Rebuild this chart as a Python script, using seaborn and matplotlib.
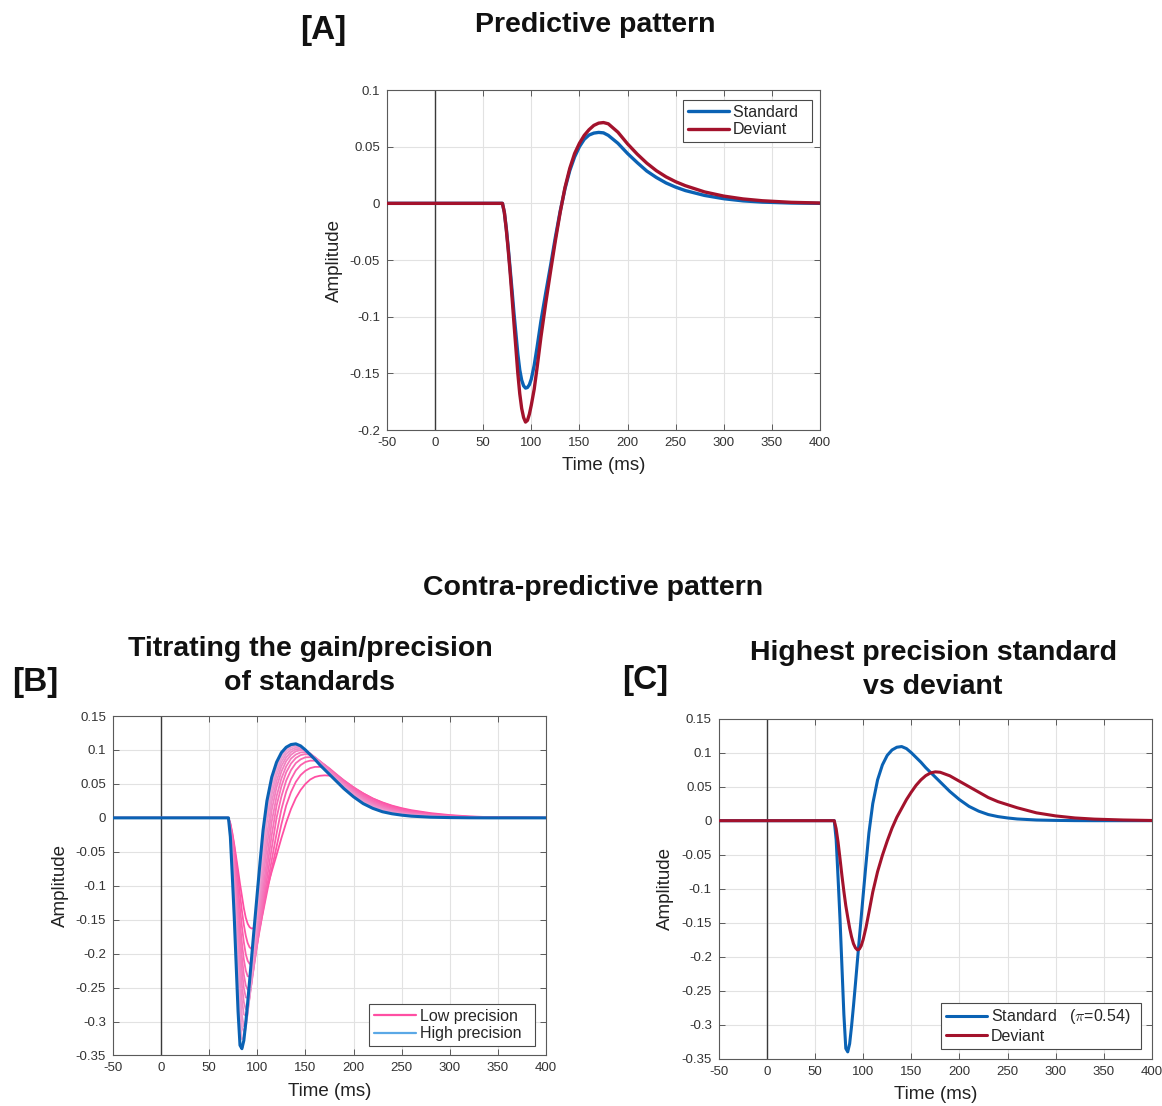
import matplotlib
matplotlib.use("Agg")
import numpy as np
import pandas as pd
import matplotlib.pyplot as plt
from matplotlib.lines import Line2D
import seaborn as sns

# ---------------- data ----------------
TIME_MS = [-50, 70, 72, 74, 76, 78, 80, 82, 84, 86, 88, 90, 92, 94, 96, 98, 100,
           103, 106, 110, 115, 120, 125, 130, 135, 140, 145, 150, 155, 160, 165,
           170, 175, 180, 190, 200, 210, 220, 230, 240, 250, 260, 280, 300, 320,
           340, 370, 400]

# Panel A (predictive pattern)
standard_pred = [0, 0, -0.008, -0.022, -0.039, -0.058, -0.077, -0.097, -0.115, -0.133,
                 -0.147, -0.156, -0.161, -0.163, -0.1625, -0.160, -0.155, -0.143, -0.127,
                 -0.104, -0.079, -0.055, -0.030, -0.007, 0.013, 0.029, 0.041, 0.050,
                 0.0565, 0.0603, 0.062, 0.0626, 0.0622, 0.060, 0.053, 0.044, 0.036,
                 0.0285, 0.0228, 0.0180, 0.0143, 0.0113, 0.0070, 0.0041, 0.0022, 0.0011,
                 0.0003, 0]
deviant_pred = [0, 0, -0.008, -0.023, -0.041, -0.061, -0.083, -0.106, -0.128, -0.150,
                -0.168, -0.181, -0.189, -0.193, -0.1915, -0.186, -0.178, -0.164, -0.145,
                -0.118, -0.088, -0.060, -0.033, -0.008, 0.014, 0.031, 0.044, 0.053,
                0.060, 0.065, 0.0688, 0.0708, 0.0713, 0.0702, 0.0628, 0.0525, 0.0435,
                0.0355, 0.0288, 0.0234, 0.0191, 0.0156, 0.0101, 0.0064, 0.0039, 0.0023,
                0.0009, 0.0003]

# Panel C (highest precision standard vs deviant)
standard_high = [0, 0, -0.028, -0.085, -0.145, -0.215, -0.285, -0.335, -0.340, -0.328,
                 -0.302, -0.272, -0.240, -0.207, -0.174, -0.142, -0.110, -0.063, -0.018,
                 0.025, 0.060, 0.082, 0.096, 0.104, 0.108, 0.109, 0.106, 0.100, 0.093,
                 0.086, 0.078, 0.071, 0.064, 0.057, 0.043, 0.031, 0.021, 0.014, 0.009,
                 0.006, 0.004, 0.0025, 0.001, 0.0004, 0.0001, 0, 0, 0]
deviant_contra = [0, 0, -0.012, -0.032, -0.056, -0.081, -0.104, -0.125, -0.142, -0.158,
                  -0.171, -0.181, -0.187, -0.190, -0.189, -0.184, -0.175, -0.157, -0.135,
                  -0.105, -0.075, -0.051, -0.030, -0.011, 0.005, 0.018, 0.031, 0.042,
                  0.052, 0.060, 0.0662, 0.0702, 0.0718, 0.0712, 0.0660, 0.058, 0.050, 0.042,
                  0.034, 0.028, 0.0235, 0.019, 0.0115, 0.007, 0.004, 0.0023, 0.001, 0.0003]

# Panel B: intermediate precision levels (between standard_pred and standard_high)
titration_1 = [0, 0, -0.0095, -0.0237, -0.0421, -0.0641, -0.0886, -0.1131, -0.137, -0.1575,
               -0.1735, -0.1845, -0.1907, -0.193, -0.1895, -0.184, -0.1757, -0.1589, -0.1384,
               -0.110, -0.0751, -0.0425, -0.0097, 0.0181, 0.038, 0.0529, 0.063, 0.0694,
               0.0733, 0.0751, 0.0751, 0.0735, 0.0701, 0.0657, 0.0551, 0.0451, 0.0361,
               0.0285, 0.0222, 0.0173, 0.0133, 0.0103, 0.0060, 0.0034, 0.0017, 0.0008, 0.0003, 0]
titration_2 = [0, 0, -0.0108, -0.0281, -0.0505, -0.0771, -0.1048, -0.1333, -0.1603, -0.1832,
               -0.2007, -0.2106, -0.2151, -0.2128, -0.2073, -0.1974, -0.1845, -0.1614, -0.1357,
               -0.1017, -0.0622, -0.0233, 0.0123, 0.0385, 0.0569, 0.0698, 0.0777, 0.0823,
               0.0843, 0.0842, 0.0819, 0.0779, 0.0728, 0.0669, 0.0551, 0.0446, 0.0350,
               0.0271, 0.0207, 0.0157, 0.0120, 0.0092, 0.0052, 0.0028, 0.0014, 0.0007, 0.0002, 0]
titration_3 = [0, 0, -0.0125, -0.0328, -0.0597, -0.0904, -0.1225, -0.155, -0.1843, -0.2086,
               -0.2247, -0.2334, -0.2336, -0.2284, -0.2171, -0.2027, -0.186, -0.1565, -0.1274,
               -0.0897, -0.0446, 0, 0.0313, 0.0548, 0.0703, 0.0806, 0.0862, 0.0892,
               0.0894, 0.0875, 0.0833, 0.0780, 0.0720, 0.0655, 0.0536, 0.0427, 0.0331,
               0.0251, 0.0189, 0.0141, 0.0106, 0.0080, 0.0044, 0.0023, 0.0012, 0.0006, 0.0002, 0]
titration_4 = [0, 0, -0.0139, -0.0367, -0.067, -0.1012, -0.1366, -0.1733, -0.2049, -0.2309,
               -0.2467, -0.253, -0.2477, -0.2373, -0.2231, -0.2047, -0.183, -0.1498, -0.1169,
               -0.0759, -0.0253, 0.0179, 0.0463, 0.067, 0.080, 0.0881, 0.0924, 0.0939,
               0.0928, 0.089, 0.0837, 0.0777, 0.0711, 0.0644, 0.0523, 0.0410, 0.0312,
               0.0232, 0.0172, 0.0127, 0.0095, 0.0070, 0.0038, 0.0019, 0.0009, 0.0005, 0.0002, 0]
titration_5 = [0, 0, -0.0157, -0.0415, -0.0756, -0.1126, -0.1514, -0.1905, -0.2243, -0.2506,
               -0.2645, -0.265, -0.2575, -0.2433, -0.224, -0.2015, -0.1774, -0.141, -0.1055,
               -0.0614, -0.0056, 0.0316, 0.0579, 0.0758, 0.0873, 0.0933, 0.0964, 0.0965,
               0.0938, 0.089, 0.083, 0.0764, 0.0696, 0.063, 0.0507, 0.0394, 0.0295,
               0.0216, 0.0157, 0.0114, 0.0084, 0.0061, 0.0033, 0.0016, 0.0008, 0.0004, 0.0001, 0]
titration_6 = [0, 0, -0.0178, -0.0468, -0.084, -0.1244, -0.1681, -0.2098, -0.2462, -0.2713,
               -0.282, -0.2755, -0.2623, -0.2439, -0.2208, -0.1946, -0.1678, -0.128, -0.0911,
               -0.0426, 0.0115, 0.045, 0.068, 0.0836, 0.0928, 0.098, 0.0998, 0.0987,
               0.0947, 0.0892, 0.0827, 0.0757, 0.0687, 0.0622, 0.0496, 0.038, 0.0281,
               0.0203, 0.0146, 0.0104, 0.0075, 0.0054, 0.0029, 0.0014, 0.0007, 0.0003, 0.0001, 0]
titration_7 = [0, 0, -0.0201, -0.0528, -0.0938, -0.1384, -0.1864, -0.2313, -0.2685, -0.2894,
               -0.2915, -0.282, -0.2655, -0.2419, -0.2148, -0.1864, -0.1581, -0.1168, -0.0779,
               -0.026, 0.024, 0.0541, 0.076, 0.0891, 0.097, 0.101, 0.1018, 0.0993,
               0.0943, 0.0882, 0.0813, 0.0742, 0.0672, 0.0606, 0.0479, 0.0362, 0.0263,
               0.0188, 0.0133, 0.0094, 0.0067, 0.0047, 0.0025, 0.0012, 0.0006, 0.0003, 0.0001, 0]
titration_8 = [0, 0, -0.0224, -0.0593, -0.1044, -0.1529, -0.2063, -0.2542, -0.2904, -0.307,
               -0.2993, -0.2843, -0.2625, -0.2358, -0.2057, -0.1756, -0.1458, -0.1035, -0.062,
               -0.0068, 0.0343, 0.0629, 0.082, 0.094, 0.1005, 0.1035, 0.1031, 0.0997,
               0.0942, 0.0876, 0.0804, 0.0733, 0.0663, 0.0596, 0.0467, 0.0349, 0.025,
               0.0176, 0.0123, 0.0085, 0.006, 0.0042, 0.0022, 0.0011, 0.0005, 0.0002, 0.0001, 0]
titration_9 = [0, 0, -0.0245, -0.0642, -0.1123, -0.1657, -0.2223, -0.2738, -0.3081, -0.3151,
               -0.3058, -0.2875, -0.2617, -0.2315, -0.2003, -0.1685, -0.1374, -0.0941, -0.0509,
               0.0042, 0.0424, 0.0692, 0.0872, 0.0978, 0.1038, 0.1058, 0.1044, 0.100,
               0.0939, 0.0868, 0.0795, 0.0723, 0.0654, 0.0585, 0.0454, 0.0334, 0.0233,
               0.0162, 0.0111, 0.0076, 0.0052, 0.0036, 0.0019, 0.0009, 0.0004, 0.0002, 0, 0]
titration_10 = [0, 0, -0.0267, -0.0716, -0.1231, -0.1825, -0.2432, -0.2963, -0.326, -0.3237,
                -0.3095, -0.2874, -0.2591, -0.226, -0.1931, -0.160, -0.1284, -0.0832, -0.0376,
                0.0129, 0.0501, 0.0755, 0.0916, 0.1013, 0.106, 0.1074, 0.1049, 0.0995,
                0.093, 0.0856, 0.0783, 0.071, 0.064, 0.0571, 0.0438, 0.0317, 0.0218,
                0.015, 0.010, 0.0068, 0.0046, 0.0031, 0.0016, 0.0007, 0.0003, 0.0001, 0, 0]

X_TICKS = [-50, 0, 50, 100, 150, 200, 250, 300, 350, 400]
X_TICKLABELS = ["-50", "0", "50", "100", "150", "200", "250", "300", "350", "400"]
A_YTICKS = [-0.2, -0.15, -0.1, -0.05, 0, 0.05, 0.1]
A_YTICKLABELS = ["-0.2", "-0.15", "-0.1", "-0.05", "0", "0.05", "0.1"]
BC_YTICKS = [-0.35, -0.3, -0.25, -0.2, -0.15, -0.1, -0.05, 0, 0.05, 0.1, 0.15]
BC_YTICKLABELS = ["-0.35", "-0.3", "-0.25", "-0.2", "-0.15", "-0.1", "-0.05", "0",
                  "0.05", "0.1", "0.15"]

# ---------------- styling ----------------
sns.set_theme(style="whitegrid")
plt.rcParams['font.family'] = ['Liberation Sans', 'DejaVu Sans']
plt.rcParams['mathtext.fontset'] = 'cm'

BLUE = '#0a62b4'
RED = '#a3122c'
TXT = '#222222'

fig = plt.figure(figsize=(11.62, 11.06), dpi=100)
fig.patch.set_facecolor('white')
axA = fig.add_axes([0.3330, 0.6112, 0.3727, 0.3074])
axB = fig.add_axes([0.0972, 0.0457, 0.3727, 0.3069])
axC = fig.add_axes([0.6185, 0.0428, 0.3729, 0.3074])


def style_axes(ax, yticks, ylabels, ylim):
    ax.set_facecolor('white')
    ax.set_xlim(-50, 400)
    ax.set_ylim(*ylim)
    ax.set_xticks(X_TICKS)
    ax.set_xticklabels(X_TICKLABELS)
    ax.set_yticks(yticks)
    ax.set_yticklabels(ylabels)
    ax.grid(True, color='#e2e2e2', lw=0.8)
    ax.set_axisbelow(True)
    for s in ax.spines.values():
        s.set_visible(True)
        s.set_color('#5a5a5a')
        s.set_linewidth(0.8)
    ax.tick_params(direction='in', length=4, width=0.7, color='#5a5a5a',
                   top=True, right=True, bottom=True, left=True,
                   labelsize=9.5, labelcolor='#333333', pad=5)
    ax.axvline(0, color='#3a3a3a', lw=1.0, zorder=1.5)
    ax.set_xlabel('Time (ms)', fontsize=13.5, color=TXT, labelpad=6)
    ax.set_ylabel('Amplitude', fontsize=13.5, color=TXT, labelpad=5)


def draw(ax, y, color, lw, label=None, z=2):
    df = pd.DataFrame({'t': TIME_MS, 'v': y})
    sns.lineplot(data=df, x='t', y='v', ax=ax, color=color, linewidth=lw,
                 label=label, errorbar=None, sort=False, zorder=z)


LEG = dict(fontsize=11.5, frameon=True, fancybox=False, framealpha=1,
           edgecolor='#4a4a4a', handlelength=2.6, handletextpad=0.25,
           labelspacing=0.15, borderpad=0.3, borderaxespad=0)

# Panel A
draw(axA, standard_pred, BLUE, 2.4, 'Standard  ', 3)
draw(axA, deviant_pred, RED, 2.4, 'Deviant', 4)
style_axes(axA, A_YTICKS, A_YTICKLABELS, (-0.2, 0.1))
legA = axA.legend(loc='upper right', bbox_to_anchor=(0.9815, 0.9706), **LEG)
legA.get_frame().set_linewidth(0.8)

# Panel B
titration = [standard_pred, titration_1, titration_2, titration_3, titration_4,
             titration_5, titration_6, titration_7, titration_8, titration_9,
             titration_10]
c0 = np.array(matplotlib.colors.to_rgb('#ff4fa3'))
c1 = np.array(matplotlib.colors.to_rgb('#eaa3d4'))
for i, curve in enumerate(titration):
    f = i / (len(titration) - 1)
    draw(axB, curve, tuple(c0 * (1 - f) + c1 * f), 1.3, None, 2 + i * 0.01)
draw(axB, standard_high, BLUE, 2.2, None, 3)
style_axes(axB, BC_YTICKS, BC_YTICKLABELS, (-0.35, 0.15))
hB = [Line2D([], [], color='#ff4fa3', lw=1.6), Line2D([], [], color='#5aa8e6', lw=1.6)]
legB = axB.legend(hB, ['Low precision', 'High precision  '], loc='lower right',
                  bbox_to_anchor=(0.9746, 0.028), **LEG)
legB.get_frame().set_linewidth(0.8)

# Panel C
draw(axC, standard_high, BLUE, 2.2, 'Standard   ($\\pi$=0.54)  ', 3)
draw(axC, deviant_contra, RED, 2.2, 'Deviant', 4)
style_axes(axC, BC_YTICKS, BC_YTICKLABELS, (-0.35, 0.15))
legC = axC.legend(loc='lower right', bbox_to_anchor=(0.9746, 0.0294), **LEG)
legC.get_frame().set_linewidth(0.8)

# Titles
bold = dict(fontweight='bold', color='#111111', ha='center', va='center')
fig.text(323 / 1162, 1 - 30 / 1106, '[A]', fontsize=24, **bold)
fig.text(595 / 1162, 1 - 25 / 1106, 'Predictive pattern', fontsize=20.5, **bold)
fig.text(593 / 1162, 1 - 588 / 1106, 'Contra-predictive pattern', fontsize=20.5, **bold)
fig.text(310 / 1162, 1 - 666 / 1106, 'Titrating the gain/precision\nof standards',
         fontsize=20.5, linespacing=1.4, multialignment='center', **bold)
fig.text(35 / 1162, 1 - 683 / 1106, '[B]', fontsize=24, **bold)
fig.text(933 / 1162, 1 - 669.5 / 1106, 'Highest precision standard\nvs deviant',
         fontsize=20.5, linespacing=1.4, multialignment='center', **bold)
fig.text(645 / 1162, 1 - 681 / 1106, '[C]', fontsize=24, **bold)

fig.savefig('out.png', dpi=100, facecolor='white')
